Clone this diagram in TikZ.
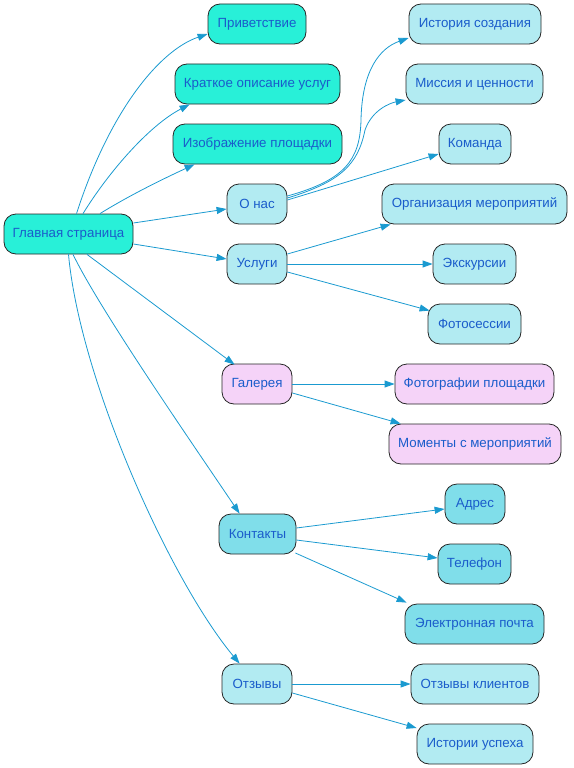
\documentclass[tikz,border=0pt]{standalone}
\usepackage{fontspec}
\setmainfont{Liberation Sans}
\usetikzlibrary{arrows.meta,calc}
\definecolor{turq}{HTML}{28F0D8}
\definecolor{lblue}{HTML}{B2EBF2}
\definecolor{mblue}{HTML}{80DEEA}
\definecolor{lpink}{HTML}{F5D3F8}
\definecolor{txtc}{HTML}{1A5CCB}
\definecolor{edgec}{HTML}{1A9AD0}
\tikzset{
  box/.style={draw=black!85, line width=0.8pt, rounded corners=12pt, minimum height=40pt,
    inner xsep=2pt, inner ysep=0pt, text=txtc, font=\fontsize{13.3}{16}\selectfont},
  tq/.style={box, fill=turq},
  lb/.style={box, fill=lblue},
  mb/.style={box, fill=mblue},
  pk/.style={box, fill=lpink},
  edge/.style={draw=edgec, line width=0.8pt, -{Triangle[length=10pt,width=7pt]}}
}
\begin{document}
\begin{tikzpicture}[x=1pt,y=-1pt]
\useasboundingbox (0,0) rectangle (573,768);
% left column
\node[tq, minimum width=129pt] (main) at (68.5,234) {Главная страница};
\node[tq, minimum width=98pt] (priv) at (257,24) {Приветствие};
\node[tq, minimum width=165pt] (krat) at (257.5,84) {Краткое описание услуг};
\node[tq, minimum width=169pt] (izob) at (257.5,144) {Изображение площадки};
\node[lb, minimum width=60pt] (onas) at (257,204) {О нас};
\node[lb, minimum width=60pt] (usl) at (257,264) {Услуги};
\node[pk, minimum width=70pt] (gal) at (257,384) {Галерея};
\node[mb, minimum width=77pt] (kont) at (257.5,534) {Контакты};
\node[lb, minimum width=70pt] (otz) at (257,684) {Отзывы};
% right column
\node[lb, minimum width=132pt] (ist) at (475,24) {История создания};
\node[lb, minimum width=137pt] (miss) at (474.5,84) {Миссия и ценности};
\node[lb, minimum width=72pt] (kom) at (475,144) {Команда};
\node[lb, minimum width=185pt] (org) at (474.5,204) {Организация мероприятий};
\node[lb, minimum width=83pt] (eksk) at (474.5,264) {Экскурсии};
\node[lb, minimum width=93pt] (foto) at (474.5,324) {Фотосессии};
\node[pk, minimum width=159pt] (fotopl) at (474.5,384) {Фотографии площадки};
\node[pk, minimum width=172pt] (mom) at (475,444) {Моменты с мероприятий};
\node[mb, minimum width=60pt] (adr) at (475,504) {Адрес};
\node[mb, minimum width=73pt] (tel) at (474.5,564) {Телефон};
\node[mb, minimum width=139pt] (email) at (474.5,624) {Электронная почта};
\node[lb, minimum width=128pt] (otzkl) at (475,684) {Отзывы клиентов};
\node[lb, minimum width=116pt] (istusp) at (475,744) {Истории успеха};
% edges from main
\draw[edge] ($(main.north)+(8,0)$) .. controls (110,110) and (160,50) .. ($(priv.west)+(0,10)$);
\draw[edge] ($(main.north)+(14.5,0)$) .. controls (110,170) and (150,125) .. ($(krat.south west)+(15,0)$);
\draw[edge] ($(main.north)+(31.5,0)$) .. controls (130,195) and (165,178) .. ($(izob.south west)+(22,0)$);
\draw[edge] ($(main.east)+(0,-11)$) -- ($(onas.west)+(0,5)$);
\draw[edge] ($(main.east)+(0,10)$) -- ($(usl.west)+(0,-5)$);
\draw[edge] ($(main.south)+(18.5,0)$) -- ($(gal.north west)+(13,1)$);
\draw[edge] ($(main.south)+(4.5,0)$) .. controls (100,310) and (190,440) .. ($(kont.north west)+(21,0)$);
\draw[edge] ($(main.south)+(0,0)$) .. controls (80,380) and (170,580) .. ($(otz.north west)+(18,0)$);
% about
\draw[edge] ($(onas.east)+(0,-8)$) .. controls (345,180) and (360,160) .. (361,120) .. controls (362,70) and (380,48) .. ($(ist.west)+(0,14)$);
\draw[edge] ($(onas.east)+(0,-6)$) .. controls (340,182) and (358,165) .. (365,130) .. controls (372,110) and (390,103) .. ($(miss.west)+(0,16)$);
\draw[edge] ($(onas.east)+(0,-4)$) -- ($(kom.west)+(0,10)$);
% services
\draw[edge] ($(usl.east)+(0,-10)$) -- ($(org.south west)+(9,0)$);
\draw[edge] (usl.east) -- (eksk.west);
\draw[edge] ($(usl.east)+(0,8)$) -- ($(foto.north west)+(2,7)$);
% gallery
\draw[edge] (gal.east) -- (fotopl.west);
\draw[edge] ($(gal.east)+(0,9)$) -- ($(mom.north west)+(12,0)$);
% contacts
\draw[edge] ($(kont.east)+(0,-6)$) -- ($(adr.west)+(0,5)$);
\draw[edge] ($(kont.east)+(0,6)$) -- ($(tel.west)+(0,-6)$);
\draw[edge] ($(kont.east)+(-1,19)$) -- ($(email.north west)+(2,-1)$);
% reviews
\draw[edge] (otz.east) -- (otzkl.west);
\draw[edge] ($(otz.east)+(0,9)$) -- ($(istusp.west)+(0,-16)$);
\end{tikzpicture}
\end{document}
